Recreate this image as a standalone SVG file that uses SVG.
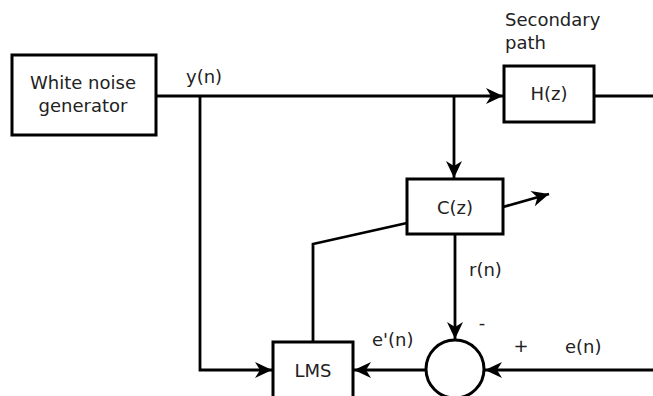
<svg xmlns="http://www.w3.org/2000/svg" width="653" height="396" viewBox="0 0 653 396">
<style>
.box{fill:#fff;stroke:#000;stroke-width:3}
.ln{fill:none;stroke:#000;stroke-width:2.8}
.arr{fill:none;stroke:#000;stroke-width:2.8;marker-end:url(#ah)}
text{font-family:"DejaVu Sans",sans-serif;font-size:18px;fill:#222}
.c{text-anchor:middle}
</style>
<defs>
<marker id="ah" markerUnits="userSpaceOnUse" markerWidth="22" markerHeight="22" viewBox="-19 -11 22 22" refX="0" refY="0" orient="auto">
<path d="M0,0 L-17,-8 L-12,0 L-17,8 Z" fill="#000"/>
</marker>
</defs>
<rect width="653" height="396" fill="#fff"/>
<g id="connectors">
<path class="arr" d="M156,96 H503"/>
<path class="ln" d="M594,96 H653"/>
<path class="arr" d="M200,96 V370 H272"/>
<path class="arr" d="M454,96 V178"/>
<path class="arr" d="M503,207 L549,194"/>
<path class="ln" d="M407,223 L313,244 V342"/>
<path class="arr" d="M455,234 V339"/>
<path class="arr" d="M653,370 H485"/>
<path class="arr" d="M426,370 H354"/>
</g>
<g id="white-noise">
<rect class="box" x="12" y="55" width="144" height="80"/>
<text class="c" x="83" y="89">White noise</text>
<text class="c" x="83" y="112">generator</text>
</g>
<g id="label-yn"><text x="186" y="83">y(n)</text></g>
<g id="secondary-path">
<text x="505" y="26">Secondary</text>
<text x="505" y="49">path</text>
</g>
<g id="Hz">
<rect class="box" x="504" y="66" width="90" height="56"/>
<text class="c" x="549" y="100">H(z)</text>
</g>
<g id="Cz">
<rect class="box" x="407" y="179" width="96" height="55"/>
<text class="c" x="455" y="214">C(z)</text>
</g>
<g id="label-rn"><text x="469" y="276">r(n)</text></g>
<g id="sum">
<circle class="box" cx="455" cy="369" r="29"/>
<text class="c" x="482" y="329">-</text>
<text class="c" x="521" y="352">+</text>
</g>
<g id="label-en"><text x="565" y="353">e(n)</text></g>
<g id="label-epn"><text x="372" y="346">e'(n)</text></g>
<g id="LMS">
<rect class="box" x="273" y="342" width="80" height="60"/>
<text class="c" x="313" y="377">LMS</text>
</g>
</svg>
